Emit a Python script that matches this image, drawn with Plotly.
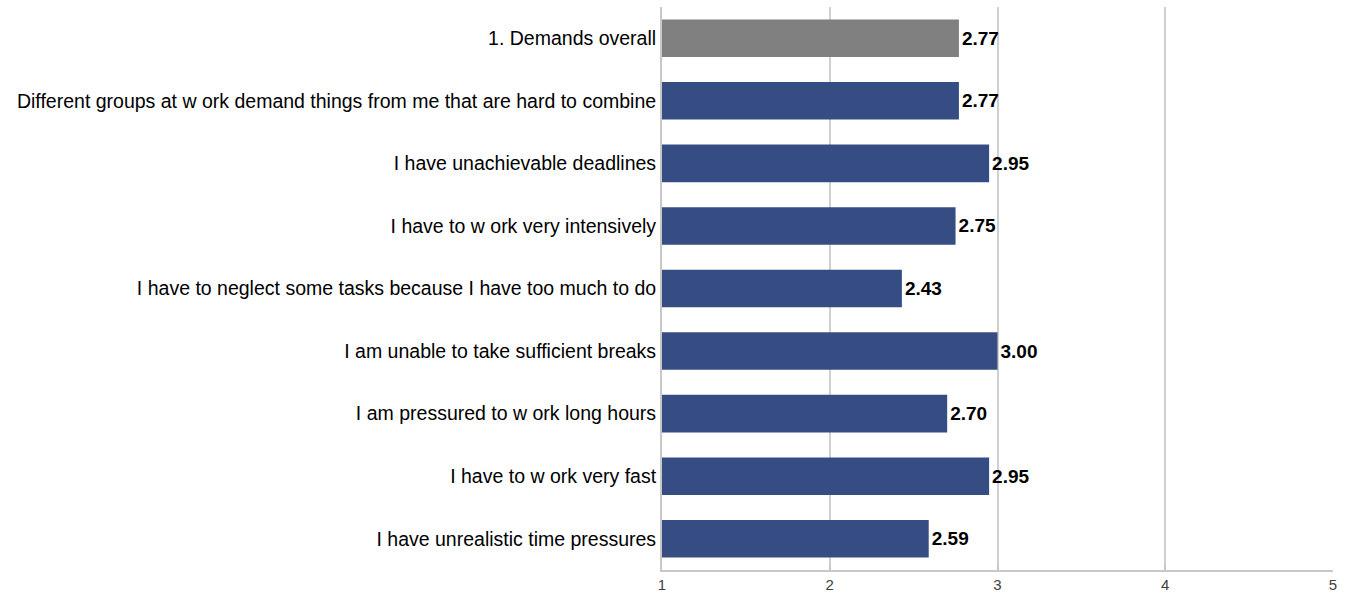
import plotly.graph_objects as go

# Survey items, top to bottom as displayed
items = [
    "1. Demands overall",
    "Different groups at w ork demand things from me that are hard to combine",
    "I have unachievable deadlines",
    "I have to w ork very intensively",
    "I have to neglect some tasks because I have too much to do",
    "I am unable to take sufficient breaks",
    "I am pressured to w ork long hours",
    "I have to w ork very fast",
    "I have unrealistic time pressures",
]
scores = [2.77, 2.77, 2.95, 2.75, 2.43, 3.00, 2.70, 2.95, 2.59]
bar_colors = ["#808080"] + ["#364D83"] * 8
x_ticks = [1, 2, 3, 4, 5]

FONT = "Liberation Sans, Arial, sans-serif"

fig = go.Figure(
    go.Bar(
        y=items,
        x=[s - 1 for s in scores],
        base=1,
        orientation="h",
        marker=dict(color=bar_colors, line=dict(width=0)),
        width=0.6,
        text=[f"{s:.2f}" for s in scores],
        textposition="outside",
        textfont=dict(family=FONT, size=19, color="#000000", weight="bold"),
        cliponaxis=False,
        hoverinfo="skip",
    )
)

fig.update_layout(
    width=1351,
    height=599,
    margin=dict(l=662, r=18, t=7, b=29),
    paper_bgcolor="white",
    plot_bgcolor="white",
    showlegend=False,
    font=dict(family=FONT, color="#000000"),
    uniformtext=dict(minsize=16, mode="show"),
)

fig.update_xaxes(
    range=[1, 5],
    tickvals=x_ticks,
    ticktext=[str(t) for t in x_ticks],
    showgrid=True,
    gridcolor="#D0D0D0",
    gridwidth=2,
    zeroline=False,
    showline=True,
    linecolor="#C8C8C8",
    linewidth=2,
    ticks="inside",
    ticklen=7,
    tickcolor="#C8C8C8",
    tickwidth=2,
    tickfont=dict(size=15, color="#404040"),
    fixedrange=True,
)

fig.update_yaxes(
    categoryorder="array",
    categoryarray=items[::-1],
    autorange=False,
    range=[-0.5, len(items) - 0.5],
    showgrid=False,
    showline=True,
    linecolor="#C8C8C8",
    linewidth=2,
    ticks="",
    ticklabelstandoff=0,
    tickfont=dict(size=19.5, color="#000000"),
    fixedrange=True,
)

fig.write_html("out.html")
